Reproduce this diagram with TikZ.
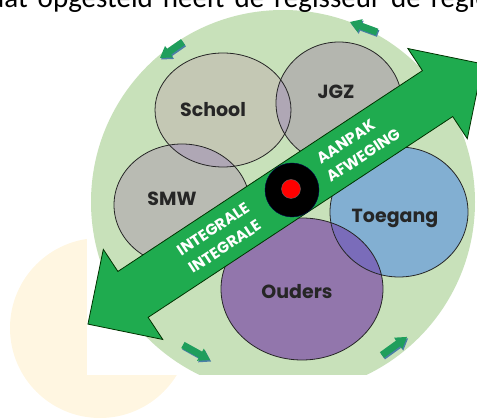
\documentclass[tikz,border=0pt]{standalone}
\usepackage{fontspec}
\setmainfont{Carlito}
\newfontfamily\gothic{Poppins}
\definecolor{beige}{HTML}{FFF6E1}
\definecolor{ringgreen}{HTML}{C8E1BA}
\definecolor{schoolgrey}{HTML}{C4C8B4}
\definecolor{jgzgrey}{HTML}{B4B6AF}
\definecolor{smwgrey}{HTML}{B9BBB3}
\definecolor{lensgrey}{HTML}{AFA7B5}
\definecolor{toegangblue}{HTML}{82AFD2}
\definecolor{oudersviolet}{HTML}{9276AC}
\definecolor{lensviolet}{HTML}{7A6CBA}
\definecolor{bandgreen}{HTML}{1FAB4F}
\definecolor{pijlgreen}{HTML}{1F9E5C}
\definecolor{pijlblue}{HTML}{4B7FA6}
\begin{document}
\begin{tikzpicture}[x=1pt,y=-1pt,
    circlabel/.style={font=\gothic\bfseries\fontsize{19}{22}\selectfont, text=black!85},
    bandtext/.style={font=\gothic\bfseries\fontsize{15.5}{17}\selectfont, text=white, inner sep=0pt, rotate=33.4},
    rim/.style={draw=black!85, line width=0.8pt}]
  \useasboundingbox (0,0) rectangle (477,419);
  % achtergrond
  \fill[beige] (100,328) circle (90);
  \fill[white] (87,0) rectangle (477,375);
  \begin{scope}
    \clip (87,0) rectangle (477,375);
    \fill[ringgreen] (283,202) circle (192);
  \end{scope}
  % cirkels
  \coordinate (school) at (223,110);
  \coordinate (jgz) at (339,103);
  \coordinate (smw) at (182,205);
  \coordinate (toegang) at (399,212);
  \coordinate (ouders) at (302,289);
  \fill[schoolgrey] (school) ellipse [x radius=68, y radius=57];
  \fill[jgzgrey] (jgz) ellipse [x radius=63, y radius=61];
  \fill[smwgrey] (smw) ellipse [x radius=68, y radius=61];
  \fill[oudersviolet] (ouders) ellipse [x radius=81, y radius=71];
  \fill[toegangblue] (toegang) ellipse [x radius=69, y radius=65];
  \begin{scope}
    \clip (school) ellipse [x radius=68, y radius=57];
    \fill[lensgrey] (jgz) ellipse [x radius=63, y radius=61];
    \fill[lensgrey] (smw) ellipse [x radius=68, y radius=61];
  \end{scope}
  \begin{scope}
    \clip (toegang) ellipse [x radius=69, y radius=65];
    \fill[lensviolet] (ouders) ellipse [x radius=81, y radius=71];
  \end{scope}
  \draw[rim] (school) ellipse [x radius=68, y radius=57];
  \draw[rim] (jgz) ellipse [x radius=63, y radius=61];
  \draw[rim] (smw) ellipse [x radius=68, y radius=61];
  \draw[rim] (ouders) ellipse [x radius=81, y radius=71];
  \draw[rim] (toegang) ellipse [x radius=69, y radius=65];
  \node[circlabel] (schoollabel) at (213,110) {School};
  \node[circlabel] (jgzlabel) at (336,92) {JGZ};
  \node[circlabel] (smwlabel) at (172,199) {SMW};
  \node[circlabel] (toeganglabel) at (395,218) {Toegang};
  \node[circlabel] (ouderslabel) at (297,292) {Ouders};
  % dubbele pijl
  \begin{scope}[shift={(285.3,194)}, rotate=33.4]
    \filldraw[fill=bandgreen, draw=black!80!green, line width=0.8pt]
      (-236.4,0) -- (-182.4,54) -- (-182.4,27.5) -- (182.4,27.5) -- (182.4,54) -- (236.4,0)
      -- (182.4,-54) -- (182.4,-27.5) -- (-182.4,-27.5) -- (-182.4,-54) -- cycle;
    \node[bandtext, anchor=east] (int1) at (-38,-10.5) {INTEGRALE};
    \node[bandtext, anchor=east] (int2) at (-38,10.5) {INTEGRALE};
    \node[bandtext, anchor=west] (aanpak) at (46,-10.5) {AANPAK};
    \node[bandtext, anchor=west] (afweging) at (44,10.5) {AFWEGING};
  \end{scope}
  \node[circle, fill=black, draw=black!70!blue, minimum size=54pt, inner sep=0pt] (target) at (292,190) {};
  \node[circle, fill=red, draw=black!60, minimum size=19pt, inner sep=0pt] (eye) at (291,189) {};
  % kleine pijlen
  \foreach \px/\py/\a/\l in {171.5/50/214.8/28, 363.5/27/159.7/29, 196.5/352.5/-29/31, 394.5/346/35.8/31}
  {
    \begin{scope}[shift={(\px+1,\py+1.5)}, rotate=\a]
      \fill[pijlblue] (-\l/2,-3.5) -- (\l/2-11,-3.5) -- (\l/2-11,-7) -- (\l/2,0)
        -- (\l/2-11,7) -- (\l/2-11,3.5) -- (-\l/2,3.5) -- cycle;
    \end{scope}
    \begin{scope}[shift={(\px,\py)}, rotate=\a]
      \fill[pijlgreen] (-\l/2,-3.5) -- (\l/2-11,-3.5) -- (\l/2-11,-7) -- (\l/2,0)
        -- (\l/2-11,7) -- (\l/2-11,3.5) -- (-\l/2,3.5) -- cycle;
    \end{scope}
  }
  % tekst
  \node[anchor=base west, inner sep=0pt, font=\fontsize{29}{33}\selectfont] (kop) at (-11,8) {\spaceskip=10pt dat opgesteld heeft de regisseur de regie};
\end{tikzpicture}
\end{document}
